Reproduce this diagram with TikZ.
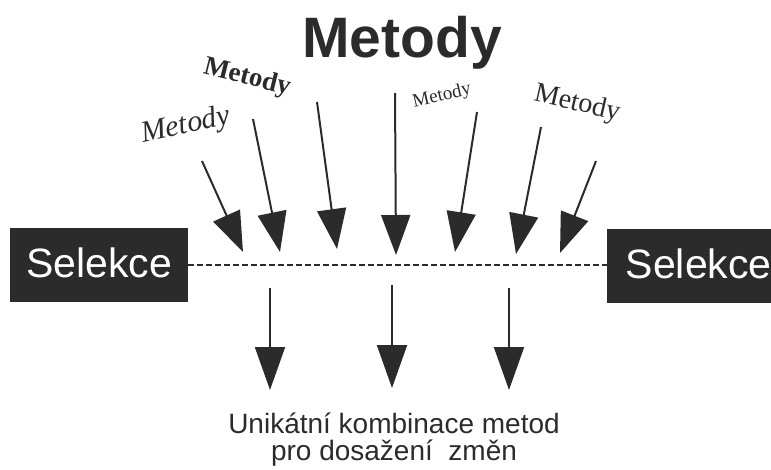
\documentclass[tikz,border=0pt]{standalone}
\usepackage{fontspec}
\setmainfont{Liberation Sans}
\newfontfamily\serifface{Liberation Serif}
\usetikzlibrary{arrows.meta}
\definecolor{ink}{HTML}{2B2B2B}
\tikzset{
  arr/.style={line width=2pt, draw=ink, -{Triangle[length=40pt,width=29pt]}},
  darr/.style={line width=2pt, draw=ink, -{Triangle[length=43pt,width=30pt]}},
  selbox/.style={fill=ink, text=white, font=\fontsize{41}{41}\selectfont,
    text height=30pt, text depth=6pt, inner sep=0pt, minimum height=74pt},
  met/.style={text=ink, inner sep=0pt}
}
\begin{document}
\begin{tikzpicture}[x=1pt,y=1pt]
\useasboundingbox (0,0) rectangle (771,-469);
% title
\node[met, anchor=base, font=\fontsize{57}{57}\selectfont\bfseries] (title) at (402,-57) {Metody};
% rotated labels
\node[met, rotate=-14, font=\serifface\fontsize{27}{27}\selectfont\bfseries] (m1) at (247,-78) {Metody};
\node[met, rotate=12, font=\serifface\fontsize{30}{30}\selectfont\itshape] (m2) at (186,-126) {Metody};
\node[met, rotate=13, font=\serifface\fontsize{19}{19}\selectfont] (m3) at (442,-96) {Metody};
\node[met, rotate=-13, font=\serifface\fontsize{28}{28}\selectfont] (m4) at (577,-104) {Metody};
% boxes
\node[selbox, minimum width=178pt] (sl) at (99,-265) {Selekce};
\node[selbox, minimum width=183pt, anchor=west] (sr) at (607,-266) {Selekce};
\draw[line width=2.5pt, draw=ink, dash pattern=on 6pt off 3pt] (sl.east) -- (sl.east -| sr.west);
% top arrows
\coordinate (a1s) at (202,-161); \coordinate (a1e) at (243,-252);
\coordinate (a2s) at (253,-119); \coordinate (a2e) at (280,-252);
\coordinate (a3s) at (317,-102); \coordinate (a3e) at (337,-249);
\coordinate (a4s) at (395,-93);  \coordinate (a4e) at (396,-255);
\coordinate (a5s) at (477,-112); \coordinate (a5e) at (455,-252);
\coordinate (a6s) at (541,-127); \coordinate (a6e) at (516,-254);
\coordinate (a7s) at (596,-161); \coordinate (a7e) at (560,-253);
\foreach \i in {1,...,7} { \draw[arr] (a\i s) -- (a\i e); }
% bottom arrows
\coordinate (b1s) at (270,-288); \coordinate (b1e) at (270,-390);
\coordinate (b2s) at (392,-285); \coordinate (b2e) at (392,-388);
\coordinate (b3s) at (509,-288); \coordinate (b3e) at (509,-390);
\foreach \i in {1,2,3} { \draw[darr] (b\i s) -- (b\i e); }
% result text
\node[met, anchor=north, align=center, font=\fontsize{28}{27}\selectfont] (res) at (394,-413)
  {Unikátní kombinace metod\\pro dosažení\ \ změn};
\end{tikzpicture}
\end{document}
